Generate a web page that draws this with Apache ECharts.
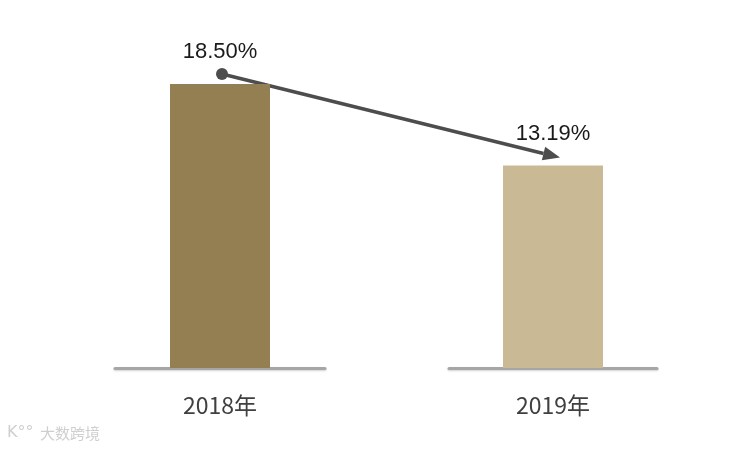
<!DOCTYPE html>
<html>
<head>
<meta charset="utf-8">
<script src="https://cdn.jsdelivr.net/npm/echarts@6/dist/echarts.min.js"></script>
<style>
  html, body { margin: 0; padding: 0; background: #fff; }
  #main { width: 751px; height: 451px; }
</style>
</head>
<body>
<div id="main"></div>
<script>
const categories = ['2018年', '2019年'];
const values = [18.50, 13.19];
const valueLabels = ['18.50%', '13.19%'];
const barColors = ['#937f52', '#c9b994'];
const watermark = '大数跨境';

const chart = echarts.init(document.getElementById('main'));

// one grid per year, so every bar gets its own short baseline
const gridBoxes = [
    { left: 115, width: 210, top: 84, bottom: 83 },
    { left: 449, width: 208, top: 84, bottom: 83 }
];

const option = {
    animation: false,
    grid: gridBoxes,
    xAxis: categories.map((c, i) => ({
        type: 'category',
        gridIndex: i,
        data: [c],
        axisTick: { show: false },
        axisLine: {
            lineStyle: {
                color: '#a6a6a6', width: 3,
                shadowColor: 'rgba(0,0,0,0.18)', shadowBlur: 2, shadowOffsetY: 1
            }
        },
        axisLabel: {
            margin: 26,
            fontSize: 23,
            color: '#404040',
            fontFamily: 'Noto Sans CJK SC'
        }
    })),
    yAxis: categories.map((c, i) => ({
        type: 'value',
        gridIndex: i,
        min: 0,
        max: 18.5,
        show: false,
        splitLine: { show: false }
    })),
    series: categories.map((c, i) => ({
        type: 'bar',
        xAxisIndex: i,
        yAxisIndex: i,
        barWidth: 100,
        data: [values[i]],
        itemStyle: { color: barColors[i] },
        label: {
            show: true,
            position: 'top',
            distance: 21,
            formatter: valueLabels[i],
            fontSize: 22,
            color: '#1a1a1a',
            fontFamily: 'Liberation Sans'
        }
    }))
};
chart.setOption(option);

// trend arrow from the 2018 bar to the 2019 bar
const p1 = chart.convertToPixel({ gridIndex: 0 }, [0, values[0]]);
const p2 = chart.convertToPixel({ gridIndex: 1 }, [0, values[1]]);
const start = [p1[0] + 2, p1[1] - 10];
const end = [p2[0] + 7, p2[1] - 8];
const ang = Math.atan2(end[1] - start[1], end[0] - start[0]);
const headLen = 17, headHalf = 7;
const base = [end[0] - headLen * Math.cos(ang), end[1] - headLen * Math.sin(ang)];
const nx = -Math.sin(ang), ny = Math.cos(ang);
const arrowColor = '#4d4d4d';

chart.setOption({
    graphic: [
        {
            type: 'line',
            shape: { x1: start[0], y1: start[1], x2: base[0], y2: base[1] },
            style: { stroke: arrowColor, lineWidth: 3.5 }
        },
        {
            type: 'polygon',
            shape: {
                points: [
                    end,
                    [base[0] + nx * headHalf, base[1] + ny * headHalf],
                    [base[0] - nx * headHalf, base[1] - ny * headHalf]
                ]
            },
            style: { fill: arrowColor }
        },
        {
            type: 'circle',
            shape: { cx: start[0], cy: start[1], r: 6 },
            style: { fill: arrowColor }
        },
        {
            type: 'text',
            left: 40,
            top: 426,
            style: {
                text: watermark,
                fontSize: 15,
                fill: '#cfcfcf',
                fontFamily: 'Noto Sans CJK SC'
            }
        },
        {
            type: 'text',
            left: 7,
            top: 425,
            style: {
                text: 'K°°',
                fontSize: 16,
                fill: '#cfcfcf',
                fontFamily: 'DejaVu Sans'
            }
        }
    ]
});
</script>
</body>
</html>
